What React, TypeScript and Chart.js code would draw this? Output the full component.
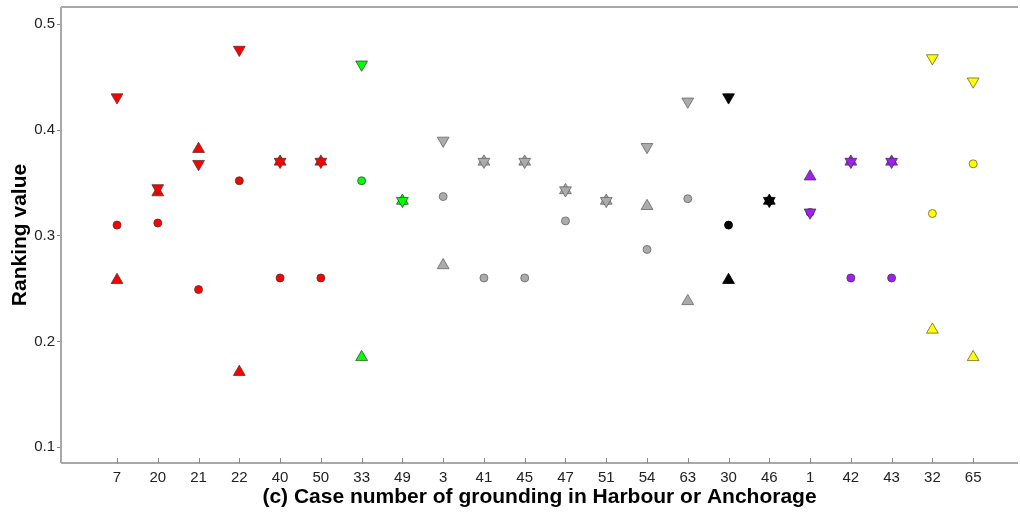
import React, { useEffect, useRef } from "react";
import { Chart, registerables } from "chart.js";

Chart.register(...registerables);

const cases = ["7", "20", "21", "22", "40", "50", "33", "49", "3", "41", "45", "47", "51", "54", "63", "30", "46", "1", "42", "43", "32", "65"];
const groups = ["red", "red", "red", "red", "red", "red", "green", "green", "gray", "gray", "gray", "gray", "gray", "gray", "gray", "black", "black", "purple", "purple", "purple", "yellow", "yellow"];
const downValues = [0.431, 0.345, 0.368, 0.476, 0.37, 0.37, 0.462, 0.333, 0.39, 0.37, 0.37, 0.343, 0.333, 0.384, 0.427, 0.431, 0.333, 0.322, 0.37, 0.37, 0.468, 0.446];
const circleValues = [0.31, 0.312, 0.249, 0.352, 0.26, 0.26, 0.352, 0.333, 0.337, 0.26, 0.26, 0.314, 0.333, 0.287, 0.335, 0.31, 0.333, 0.322, 0.26, 0.26, 0.321, 0.368];
const upValues = [0.258, 0.341, 0.382, 0.171, 0.37, 0.37, 0.185, 0.333, 0.272, 0.37, 0.37, 0.343, 0.333, 0.328, 0.238, 0.258, 0.333, 0.356, 0.37, 0.37, 0.211, 0.185];
const yTicks = [0.1, 0.2, 0.3, 0.4, 0.5];

const groupColor: Record<string, string> = {
  red: "#FF0000",
  green: "#00FF00",
  gray: "#ABABAB",
  black: "#000000",
  purple: "#A020F0",
  yellow: "#FFFF00",
};
const groupEdge: Record<string, string> = {
  red: "#5a3030",
  green: "#2f4f2f",
  gray: "#666666",
  black: "#000000",
  purple: "#4a3060",
  yellow: "#666633",
};

const FRAME = "#A8A8A8";

const framePlugin = {
  id: "framePlugin",
  beforeDatasetsDraw(chart: any) {
    const { ctx, chartArea } = chart;
    const { left, right, top, bottom } = chartArea;
    ctx.save();
    ctx.strokeStyle = FRAME;
    ctx.lineWidth = 2;
    ctx.beginPath();
    ctx.moveTo(left, top);
    ctx.lineTo(right, top);
    ctx.moveTo(left, top);
    ctx.lineTo(left, bottom);
    ctx.moveTo(left, bottom);
    ctx.lineTo(right, bottom);
    ctx.stroke();
    const xs = chart.scales.x;
    ctx.lineWidth = 1;
    ctx.strokeStyle = "#888888";
    ctx.beginPath();
    cases.forEach((_, i) => {
      const px = Math.round(xs.getPixelForValue(i)) + 0.5;
      ctx.moveTo(px, bottom);
      ctx.lineTo(px, bottom - 5);
    });
    ctx.stroke();
    ctx.restore();
  },
};

function pts(vals: number[]) {
  return vals.map((v, i) => ({ x: i, y: v }));
}

export default function App() {
  const ref = useRef<HTMLCanvasElement>(null);
  useEffect(() => {
    const fills = groups.map((g) => groupColor[g]);
    const edges = groups.map((g) => groupEdge[g]);
    const chart = new Chart(ref.current!, {
      type: "scatter",
      data: {
        datasets: [
          {
            label: "down",
            data: pts(downValues),
            pointStyle: "triangle",
            rotation: 180,
            pointRadius: 6.8,
            pointBackgroundColor: fills,
            pointBorderColor: edges,
            pointBorderWidth: 0.8,
            order: 1,
          },
          {
            label: "up",
            data: pts(upValues),
            pointStyle: "triangle",
            pointRadius: 6.8,
            pointBackgroundColor: fills,
            pointBorderColor: edges,
            pointBorderWidth: 0.8,
            order: 2,
          },
          {
            label: "circle",
            data: pts(circleValues),
            pointStyle: "circle",
            pointRadius: 4,
            pointBackgroundColor: fills,
            pointBorderColor: edges,
            pointBorderWidth: 0.8,
            order: 3,
          },
        ],
      },
      options: {
        animation: false,
        responsive: false,
        events: [],
        layout: { autoPadding: false, padding: { top: 7, right: 2, left: 0, bottom: 0 } },
        plugins: { legend: { display: false }, tooltip: { enabled: false } },
        scales: {
          x: {
            type: "linear",
            min: -1.374,
            max: 22.1,
            afterBuildTicks: (s: any) => {
              s.ticks = cases.map((_, i) => ({ value: i }));
            },
            afterFit: (s: any) => {
              s.height = 52;
              s.paddingLeft = 0;
              s.paddingRight = 0;
            },
            grid: { display: false, drawTicks: false },
            border: { display: false },
            ticks: {
              autoSkip: false,
              maxRotation: 0,
              padding: 6,
              color: "#222222",
              font: { family: "'Liberation Sans', Arial, sans-serif", size: 15 },
              callback: (v: any) => cases[v as number] ?? "",
            },
            title: {
              display: true,
              text: "(c) Case number of grounding in Harbour or Anchorage",
              color: "#000000",
              font: { family: "'Liberation Sans', Arial, sans-serif", size: 21, weight: "bold" },
              padding: { top: 0, bottom: 5 },
            },
          },
          y: {
            type: "linear",
            min: 0.0849,
            max: 0.5164,
            afterBuildTicks: (s: any) => {
              s.ticks = yTicks.map((v) => ({ value: v }));
            },
            afterFit: (s: any) => {
              s.width = 61;
              s.paddingTop = 0;
              s.paddingBottom = 0;
            },
            grid: {
              display: true,
              drawOnChartArea: false,
              drawTicks: true,
              tickLength: 4,
              tickColor: "#888888",
              color: "#888888",
            },
            border: { display: false },
            ticks: {
              padding: 2,
              color: "#222222",
              font: { family: "'Liberation Sans', Arial, sans-serif", size: 15 },
              callback: (v: any) => Number(v).toFixed(1),
            },
            title: {
              display: true,
              text: "Ranking value",
              color: "#000000",
              font: { family: "'Liberation Sans', Arial, sans-serif", size: 21, weight: "bold" },
              padding: { top: 8, bottom: 0 },
            },
          },
        },
      },
      plugins: [framePlugin],
    });
    return () => chart.destroy();
  }, []);
  return (
    <div style={{ position: "absolute", left: 0, top: 0, width: 1020, height: 515, background: "#fff" }}>
      <canvas ref={ref} width={1020} height={515} style={{ width: 1020, height: 515 }} />
    </div>
  );
}
